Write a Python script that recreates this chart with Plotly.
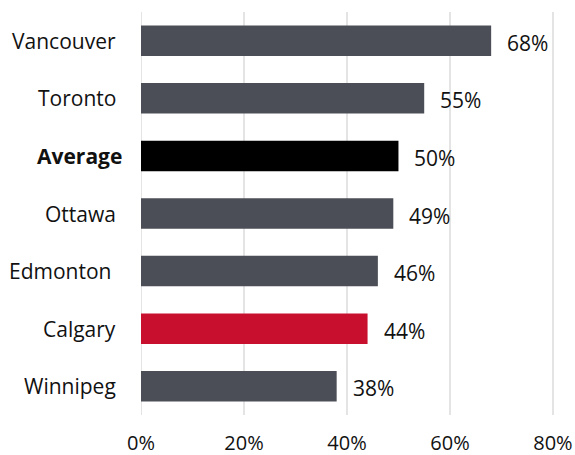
import plotly.graph_objects as go

# Share of respondents by city, top to bottom
cities = ["Vancouver", "Toronto", "Average", "Ottawa", "Edmonton", "Calgary", "Winnipeg"]
shares = [68, 55, 50, 49, 46, 44, 38]
x_ticks = [0, 20, 40, 60, 80]
x_tick_labels = ["0%", "20%", "40%", "60%", "80%"]

GRAY = "#4b4e56"
RED = "#c8102e"
BLACK = "#000000"
colors = [BLACK if c == "Average" else RED if c == "Calgary" else GRAY for c in cities]

FONT = "Open Sans"
SIZE = 21

fig = go.Figure(
    go.Bar(
        x=shares,
        y=cities,
        orientation="h",
        marker=dict(color=colors, line=dict(width=0)),
        width=0.53,
        hoverinfo="skip",
    )
)

annotations = []
# value labels to the right of each bar
for c, v in zip(cities, shares):
    annotations.append(dict(
        x=v, y=c, xref="x", yref="y", text=f"{v}%", showarrow=False,
        xanchor="left", yanchor="middle", xshift=14, yshift=-2,
        font=dict(family=FONT, size=SIZE, color="#111111"),
    ))
# category labels on the left
for c in cities:
    label = f"<b>{c}</b>" if c == "Average" else c
    shift = -17 if c == "Average" else (-28 if c == "Edmonton" else -23)
    annotations.append(dict(
        x=0, y=c, xref="paper", yref="y", text=label, showarrow=False,
        xanchor="right", yanchor="middle", xshift=shift,
        font=dict(family=FONT, size=SIZE, color="#111111"),
    ))

fig.update_layout(
    width=575, height=455,
    margin=dict(l=141, r=20, t=12, b=40, autoexpand=False),
    paper_bgcolor="white", plot_bgcolor="white",
    showlegend=False,
    annotations=annotations,
    xaxis=dict(
        range=[0, 80.4], tickvals=x_ticks, ticktext=x_tick_labels,
        showgrid=True, gridcolor="#e4e4e4", gridwidth=2,
        zeroline=False, showline=False, automargin=False,
        ticks="", ticklabelstandoff=14, ticklabeloverflow="allow",
        tickfont=dict(family=FONT, size=20, color="#111111"),
    ),
    yaxis=dict(
        categoryorder="array", categoryarray=cities[::-1],
        showticklabels=False, showgrid=False, zeroline=False, showline=False,
        automargin=False, range=[-0.5, 6.5],
    ),
)

# light rule at 0% on the left edge of the plot
fig.add_shape(type="line", xref="x", yref="paper", x0=0, x1=0, y0=0, y1=1,
              line=dict(color="#e4e4e4", width=2), layer="below")

fig.write_html("out.html")
